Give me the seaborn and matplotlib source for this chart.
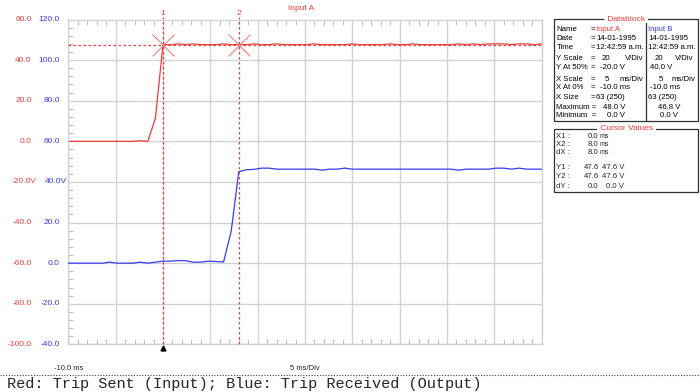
import matplotlib
matplotlib.use("Agg")
import matplotlib.pyplot as plt
import matplotlib.transforms as mtransforms
from matplotlib.patches import Rectangle
from matplotlib.lines import Line2D
from matplotlib.ticker import MultipleLocator
import seaborn as sns
import pandas as pd

# sample times (ms), one sample every 0.8 ms
time_ms = [-10.4, -9.6, -8.8, -8.0, -7.2, -6.4, -5.6, -4.8, -4.0, -3.2,
           -2.4, -1.6, -0.8, 0.0, 0.8, 1.6, 2.4, 3.2, 4.0, 4.8,
           5.6, 6.4, 7.2, 8.0, 8.8, 9.6, 10.4, 11.2, 12.0, 12.8,
           13.6, 14.4, 15.2, 16.0, 16.8, 17.6, 18.4, 19.2, 20.0, 20.8,
           21.6, 22.4, 23.2, 24.0, 24.8, 25.6, 26.4, 27.2, 28.0, 28.8,
           29.6, 30.4, 31.2, 32.0, 32.8, 33.6, 34.4, 35.2, 36.0, 36.8,
           37.6, 38.4, 39.2, 40.0]

# Input A - trip sent (V)
input_a = [0.0, 0.0, 0.0, 0.0, 0.0, 0.0, 0.0, 0.0, 0.0, 0.0,
           0.3, 0.0, 11.4, 47.6, 47.6, 48.0, 47.6, 48.0, 47.6, 47.6,
           47.6, 48.0, 47.6, 47.6, 47.6, 48.0, 47.6, 47.6, 48.0, 47.6,
           47.6, 47.6, 47.6, 48.0, 47.6, 47.6, 47.6, 47.6, 48.0, 47.6,
           47.6, 47.6, 47.6, 48.0, 47.6, 47.6, 48.0, 47.6, 47.6, 47.6,
           47.6, 47.6, 48.0, 47.6, 48.0, 47.6, 48.0, 48.0, 48.0, 47.6,
           48.0, 48.0, 47.6, 48.0]

# Input B - trip received (V)
input_b = [0.0, 0.0, 0.0, 0.0, 0.0, 0.0, 0.5, 0.0, 0.0, 0.0,
           0.5, 0.0, 0.5, 1.0, 1.0, 1.3, 1.2, 0.5, 0.5, 1.0,
           0.8, 0.6, 15.6, 45.0, 46.0, 46.2, 46.8, 46.8, 46.3, 46.3,
           46.3, 46.3, 46.3, 46.3, 45.8, 46.3, 46.3, 46.8, 46.3, 46.3,
           46.3, 46.3, 46.3, 46.3, 46.3, 46.3, 46.3, 46.3, 46.3, 46.3,
           46.3, 46.3, 45.8, 46.3, 46.3, 46.3, 46.3, 46.8, 46.8, 46.3,
           46.8, 46.3, 46.3, 46.3]

red_ticks = [60, 40, 20, 0, -20, -40, -60, -80, -100]
red_labels = ["60.0", "40.0", "20.0", "0.0", "-20.0V", "-40.0", "-60.0", "-80.0", "-100.0"]
blue_ticks = [120, 100, 80, 60, 40, 20, 0, -20, -40]
blue_labels = ["120.0", "100.0", "80.0", "60.0", "40.0V", "20.0", "0.0", "-20.0", "-40.0"]

cursor_ms = [0.0, 8.0]
cursor_level = 47.6

# (label, channel A text, channel B text) with the x (px) where each piece starts
datablock_rows = [
    [("Name", 556.5), ("=", 590.5), ("Input A", 596.5, "r"), ("Input B", 648.3, "b")],
    [("Date", 556.5), ("=", 590.5), ("14-01-1995", 596.5), ("14-01-1995", 648.3)],
    [("Time", 556.5), ("=", 590.5), ("12:42:59 a.m.", 596.5), ("12:42:59 a.m.", 648.3)],
    [("Y Scale", 556.5), ("=", 590.5), ("20", 602), ("V/Div", 624.5), ("20", 655), ("V/Div", 675)],
    [("Y At 50%", 556.5), ("=", 590.5), ("-20.0 V", 600), ("40.0 V", 650)],
    [("X Scale", 556.5), ("=", 590.5), ("5", 604.3), ("ms/Div", 620), ("5", 659), ("ms/Div", 671.7)],
    [("X At 0%", 556.5), ("=", 590.5), ("-10.0 ms", 600), ("-10.0 ms", 650)],
    [("X Size", 556.5), ("=", 590.5), ("63 (250)", 596.5), ("63 (250)", 648.3)],
    [("Maximum =", 556.5), ("48.0 V", 602.7), ("46.8 V", 658.3)],
    [("Minimum  =", 556.5), ("0.0 V", 606.7), ("0.0 V", 660)],
]
datablock_y = [29.3, 39.0, 47.7, 59.0, 67.3, 79.3, 87.7, 97.3, 107.3, 115.7]

cursor_rows = [("X1 :", "0.0", "ms"), ("X2 :", "8.0", "ms"), ("dX :", "8.0", "ms"),
               ("Y1 :", "47.6", "47.6 V"), ("Y2 :", "47.6", "47.6 V"), ("dY :", "0.0", "0.0 V")]
cursor_y = [136.7, 144.3, 152.3, 167.3, 176.7, 186.3]

RED = "#f03a3a"
BLUE = "#3a3af0"
GRID = "#d2d2d2"
FS = 5.6

sns.set_style("white")
plt.rcParams["font.family"] = ["Liberation Sans", "DejaVu Sans"]

W, H = 700, 392
fig = plt.figure(figsize=(7, 3.92), dpi=100)


def fx(px):
    return px / W


def fy(py):
    return 1 - py / H


left, top, right, bottom = 68.3, 19.5, 541.7, 344.4
rect = [fx(left), fy(bottom), fx(right) - fx(left), fy(top) - fy(bottom)]

ax = fig.add_axes(rect)
ax.set_xlim(-10, 40)
ax.set_ylim(-100, 60)
ax.xaxis.set_major_locator(MultipleLocator(5))
ax.yaxis.set_major_locator(MultipleLocator(20))
ax.xaxis.set_minor_locator(MultipleLocator(1))
ax.yaxis.set_minor_locator(MultipleLocator(4))
ax.grid(True, which="major", color=GRID, lw=1)
ax.tick_params(which="both", direction="in", top=True, right=True, bottom=True, left=True,
               labelleft=False, labelbottom=False, color="#c0c0c0")
ax.tick_params(which="major", length=0)
ax.tick_params(which="minor", length=3.5, width=0.8)
for s in ax.spines.values():
    s.set_color(GRID)
    s.set_linewidth(1)

df = pd.DataFrame({"t": time_ms, "a": input_a, "b": input_b})
sns.lineplot(data=df, x="t", y="a", ax=ax, color=RED, lw=0.9, estimator=None)
ax.set_xlabel("")
ax.set_ylabel("")

# blue channel has its own scale
ax_b = ax.twinx()
ax_b.set_ylim(-40, 120)
sns.lineplot(data=df, x="t", y="b", ax=ax_b, color=BLUE, lw=0.9, estimator=None)
ax_b.set_xlabel("")
ax_b.set_ylabel("")
ax_b.set_yticks([])
for s in ax_b.spines.values():
    s.set_visible(False)
ax_b.set_xlim(-10, 40)

# centre cross with ticks
ax_c = fig.add_axes(rect, facecolor="none")
ax_c.set_xlim(-10, 40)
ax_c.set_ylim(-100, 60)
ax_c.spines["left"].set_position(("data", 15))
ax_c.spines["bottom"].set_position(("data", -20))
for s in ax_c.spines.values():
    s.set_visible(False)
ax_c.xaxis.set_major_locator(MultipleLocator(5))
ax_c.yaxis.set_major_locator(MultipleLocator(20))
ax_c.xaxis.set_minor_locator(MultipleLocator(1))
ax_c.yaxis.set_minor_locator(MultipleLocator(4))
ax_c.tick_params(which="both", direction="inout", labelleft=False, labelbottom=False,
                 color="#c0c0c0", width=0.8)
ax_c.tick_params(which="major", length=9)
ax_c.tick_params(which="minor", length=7)

# cursors
xfrac = mtransforms.blended_transform_factory(ax.transData, ax.transAxes)
top_frac = (bottom - 16.5) / (bottom - top)
for i, c in enumerate(cursor_ms):
    ax_b.plot([c, c], [0, top_frac], transform=xfrac, color=RED, lw=0.9,
              ls=(0, (2, 2)), clip_on=False)
    ax_b.text(c, (bottom - 13.5) / (bottom - top), str(i + 1), transform=xfrac,
              color=RED, fontsize=6, ha="center", va="center")
ax_b.plot([-10, 40], [cursor_level, cursor_level], transform=ax.transData, color=RED,
          lw=0.9, ls=(0, (2, 2)))
ax_b.plot(cursor_ms, [cursor_level, cursor_level], transform=ax.transData, ls="none",
          marker="x", ms=16, mew=0.8, color="#f08080")
ax_b.plot([cursor_ms[0]], [-(347.5 - bottom) / (bottom - top)], transform=xfrac,
          marker="^", ms=3.5, color="black", clip_on=False)

# y labels
tr_red = mtransforms.blended_transform_factory(fig.transFigure, ax.transData)
for v, lab in zip(red_ticks, red_labels):
    xr = 37.0 if lab.endswith("V") else 31.7
    fig.text(fx(xr), v, lab, transform=tr_red, color=RED, fontsize=6, ha="right", va="center")
tr_blue = mtransforms.blended_transform_factory(fig.transFigure, ax_b.transData)
for v, lab in zip(blue_ticks, blue_labels):
    xr = 66.5 if lab.endswith("V") else 60.0
    fig.text(fx(xr), v, lab, transform=tr_blue, color=BLUE, fontsize=6, ha="right", va="center")

fig.text(fx(301), fy(8), "Input A", color=RED, fontsize=6, ha="center", va="center")
fig.text(fx(54), fy(368), "-10.0 ms", fontsize=5.5, ha="left", va="center")
fig.text(fx(305), fy(368), "5 ms/Div", fontsize=5.5, ha="center", va="center")

# dotted separator and caption
fig.add_artist(Line2D([0, 1], [fy(374.5), fy(374.5)], transform=fig.transFigure,
                      color="#404040", lw=0.8, ls=(0, (1, 1.5))))
fig.text(fx(7), fy(384), "Red: Trip Sent (Input); Blue: Trip Received (Output)",
         family=["Liberation Mono", "DejaVu Sans Mono"], fontsize=11, ha="left", va="center")

# data block panel
bx0, bx1 = 554.3, 697.7
fig.add_artist(Rectangle((fx(bx0), fy(120.7)), fx(bx1) - fx(bx0), fy(19.3) - fy(120.7),
                         transform=fig.transFigure, fill=False, ec="#303030", lw=0.9))
fig.add_artist(Line2D([fx(646), fx(646)], [fy(19.3), fy(120.7)], transform=fig.transFigure,
                      color="#303030", lw=0.9))
fig.text(fx(626), fy(19.3), " Datablock ", color=RED, fontsize=6, ha="center", va="center",
         bbox=dict(fc="white", ec="none", pad=0.3))
colors = {"r": RED, "b": BLUE}
for row, yy in zip(datablock_rows, datablock_y):
    for piece in row:
        col = colors[piece[2]] if len(piece) > 2 else "black"
        fig.text(fx(piece[1]), fy(yy), piece[0], fontsize=FS, va="center", color=col)

# cursor values panel
fig.add_artist(Rectangle((fx(bx0), fy(191.7)), fx(bx1) - fx(bx0), fy(129) - fy(191.7),
                         transform=fig.transFigure, fill=False, ec="#303030", lw=0.9))
fig.text(fx(626.5), fy(129), " Cursor Values ", color=RED, fontsize=6, ha="center",
         va="center", bbox=dict(fc="white", ec="none", pad=0.3))
for (lab, v1, v2), yy in zip(cursor_rows, cursor_y):
    fig.text(fx(556.5), fy(yy), lab, fontsize=FS, va="center")
    fig.text(fx(598.5), fy(yy), v1, fontsize=FS, va="center", ha="right")
    if v2 == "ms":
        fig.text(fx(600), fy(yy), v2, fontsize=5, va="center")
    else:
        fig.text(fx(624), fy(yy), v2, fontsize=FS, va="center", ha="right")

fig.savefig("out.png", dpi=100)
